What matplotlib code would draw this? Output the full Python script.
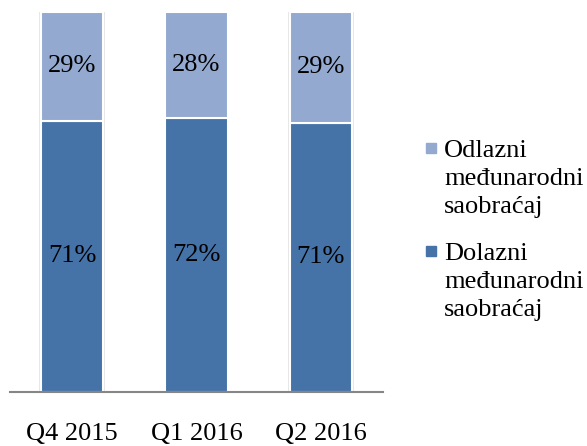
import matplotlib
matplotlib.use("Agg")
from matplotlib import pyplot as plt
from matplotlib.patches import Rectangle

# Data
categories = ['Q4 2015', 'Q1 2016', 'Q2 2016']
dolazni = [71.4, 72.0, 70.9]
odlazni = [28.6, 28.0, 29.1]
legend_labels = ['Odlazni\nmeđunarodni\nsaobraćaj', 'Dolazni\nmeđunarodni\nsaobraćaj']

dark = '#4572a7'
light = '#93a9cf'
fs = 19

plt.rcParams['font.family'] = ['Liberation Serif', 'DejaVu Serif']

fig = plt.figure(figsize=(5.87, 4.46), dpi=100)
ax = fig.add_axes([10 / 587, 1 - 392 / 446, 373 / 587, 380 / 446])

x = range(len(categories))
# soft shadow behind the bars
ax.bar(x, [100] * len(categories), width=0.53, color='#e6e6e6', zorder=1)
ax.bar(x, dolazni, width=0.5, color=dark, edgecolor='white', linewidth=1.5, zorder=2)
ax.bar(x, odlazni, width=0.5, bottom=dolazni, color=light, edgecolor='white', linewidth=1.5, zorder=2)

for i in x:
    ax.text(i, dolazni[i] / 2, '%.0f%%' % dolazni[i], ha='center', va='center', fontsize=fs, zorder=3)
    ax.text(i, dolazni[i] + odlazni[i] / 2, '%.0f%%' % odlazni[i], ha='center', va='center', fontsize=fs, zorder=3)

ax.set_xlim(-0.5, 2.5)
ax.set_ylim(0, 100)
ax.set_xticks(list(x))
ax.set_xticklabels(categories, fontsize=fs)
ax.tick_params(axis='x', length=0, pad=22)
ax.set_yticks([])
for s in ['top', 'left', 'right']:
    ax.spines[s].set_visible(False)
ax.spines['bottom'].set_color('#868686')
ax.spines['bottom'].set_linewidth(1.5)
ax.spines['bottom'].set_zorder(4)

# Legend drawn by hand so the square lines up with the first text line
legend_colors = [light, dark]
legend_tops = [143, 246]
for lab, col, top in zip(legend_labels, legend_colors, legend_tops):
    fig.patches.append(Rectangle((426 / 587, 1 - (top + 10) / 446), 10 / 587, 10 / 446,
                                 transform=fig.transFigure, color=col))
    fig.text(444 / 587, 1 - (top - 3) / 446, lab, ha='left', va='top', fontsize=fs, linespacing=1.36)

plt.savefig('out.png', dpi=100)
